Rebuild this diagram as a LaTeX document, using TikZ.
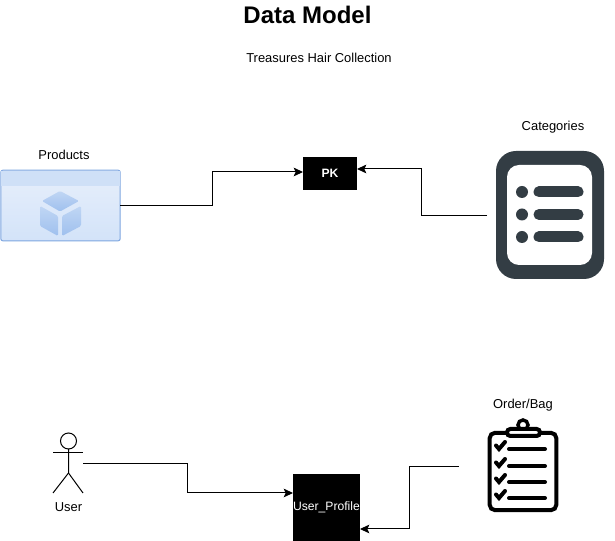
\documentclass[tikz,border=0pt]{standalone}
\usepackage{xcolor}
\usepackage{fontspec}
\setmainfont{Liberation Sans}
\definecolor{iconDark}{HTML}{333D44}
\definecolor{boxEdge}{HTML}{7EA6E0}
\definecolor{boxTop}{HTML}{E7EFFB}
\definecolor{boxBottom}{HTML}{D3E3F9}
\definecolor{boxBand}{HTML}{CFE0F7}
\definecolor{cubeLight}{HTML}{C0D6F4}
\definecolor{cubeBlue}{HTML}{9FC0EE}
\usetikzlibrary{calc}
\usetikzlibrary{arrows.meta}
\tikzset{
    label/.style={font=\fontsize{9.7}{11}\selectfont,inner sep=0pt,outer sep=0pt},
    blackBox/.style={fill=black,text=white,inner sep=0pt,outer sep=0pt,font=\fontsize{9.1}{11}\selectfont},
    link/.style={draw=black,line width=0.75pt,-{Stealth[length=7pt,width=6.5pt,inset=1.5pt]}},
    iconLine/.style={draw=black,line width=3pt,line cap=round},
    listBar/.style={draw=iconDark,line width=8.25pt,line cap=round},
    cubeFace/.style={top color=cubeLight,bottom color=cubeBlue,draw=none,rounded corners=1pt},
    actor/.style={draw=black,line width=0.75pt}
}

\begin{document}
\begin{tikzpicture}[x=0.75pt,y=-0.75pt]
  % Page
  \path[use as bounding box] (0,0) rectangle (615,541);

  % Titles
  \node[label,font=\bfseries\fontsize{18}{20}\selectfont] (title) at (307.5,15) {Data Model};
  \node[label] (subtitle) at (319,58) {Treasures Hair Collection};

  % Products window
  \node[draw=boxEdge,line width=0.75pt,rounded corners=1.5pt,top color=boxTop,bottom color=boxBottom,
    minimum width=89.5pt,minimum height=53pt,inner sep=0pt,outer sep=0pt] (products) at (60.5,205.5) {};
  \fill[boxBand] (1,171) rectangle (120,186);
  \node[label] (productsLabel) at (64,155) {Products};
  \path[cubeFace] (60,191) -- (79,201) -- (60,211.5) -- (42,201) -- cycle;
  \path[cubeFace] (40,206) -- (58,216) -- (58,236) -- (40,226) -- cycle;
  \path[cubeFace] (81,206) -- (62,216) -- (62,236) -- (81,226) -- cycle;

  % PK
  \node[blackBox,minimum width=40.5pt,minimum height=24.75pt] (pk) at (330,173.5) {\textbf{PK}};
  \coordinate (pkIn) at ($(pk.east)+(0,-4.5)$);

  % Categories list icon
  \node[fill=iconDark,rounded corners=15pt,minimum width=81pt,minimum height=96pt,inner sep=0pt,outer sep=0pt] (categories) at (550,215) {};
  \fill[white,rounded corners=9pt] (507,165) rectangle (592,265);
  \foreach \y in {192,214.5,237}{
    \fill[iconDark] (522,\y) circle[radius=6];
    \draw[listBar] (539,\y) -- (578,\y);
  }
  \node[label] (categoriesLabel) at (553,127.5) {Categories};
  \coordinate (categoriesOut) at ($(categories.west)+(-9,0.5)$);

  % User
  \node[minimum width=22.5pt,minimum height=45pt,inner sep=0pt,outer sep=0pt] (user) at (68,463.5) {};
  \draw[actor] (68.5,441) circle[radius=8];
  \draw[actor] (68.5,449) -- (68.5,473) -- (53,493);
  \draw[actor] (68.5,473) -- (83,493);
  \draw[actor] (53,453) -- (83,453);
  \node[label] (userLabel) at (68.5,507) {User};

  % User profile
  \node[blackBox,minimum width=50.25pt,minimum height=50.25pt] (profile) at (326.5,507.5) {User\_Profile};
  \coordinate (profileIn) at ($(profile.west)+(0,-14.5)$);
  \coordinate (profileBag) at ($(profile.east)+(0,21.5)$);

  % Order clipboard icon
  \node[draw=black,line width=3pt,rounded corners=4pt,fill=white,minimum width=50pt,minimum height=58pt,inner sep=0pt,outer sep=0pt] (order) at (523,471.5) {};
  \draw[black,line width=2.6pt,fill=white] (523,425) circle[radius=5];
  \draw[black,line width=3pt,fill=white,rounded corners=2.5pt] (507,436) rectangle (540,429);
  \foreach \y in {449,466,482,498}{
    \draw[iconLine] (496,\y-3.5) -- (499,\y) -- (505,\y-7);
    \draw[iconLine] (509,\y) -- (545,\y);
  }
  \node[label] (orderLabel) at (523,405.5) {Order/Bag};
  \coordinate (orderOut) at ($(order.west)+(-31,-5)$);

  % Connectors
  \draw[link] (products.east) -- ++(92,0) |- ($(pk.west)+(0,-1.5)$);
  \draw[link] (categoriesOut) -- ++(-66,0) |- (pkIn);
  \draw[link] (user.east) -- ++(104,0) |- (profileIn);
  \draw[link] (orderOut) -- ++(-49,0) |- (profileBag);
\end{tikzpicture}
\end{document}
